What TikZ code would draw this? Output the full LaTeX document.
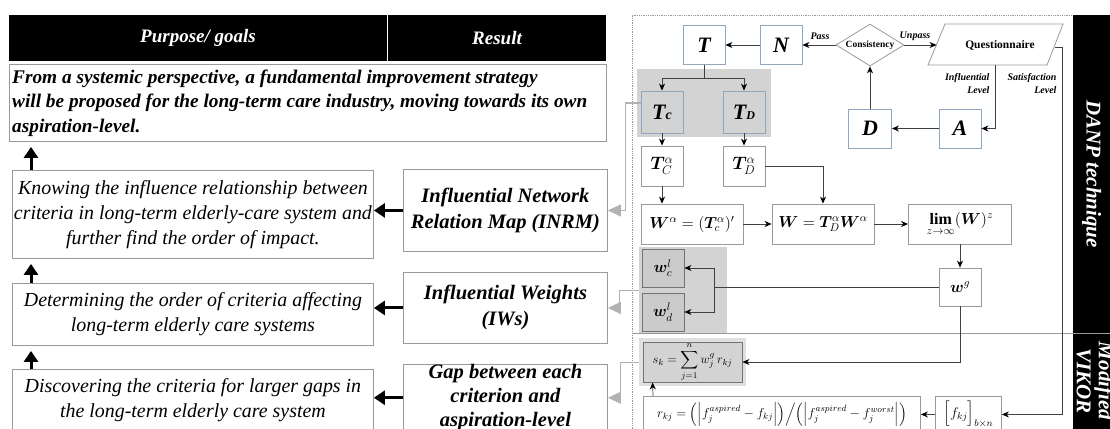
\RequirePackage{fix-cm}
\documentclass[tikz,border=0pt]{standalone}
\usepackage{amsmath,amssymb}
\usepackage{bm}
\usepackage{fontspec}
\setmainfont{Liberation Serif}
\usetikzlibrary{arrows.meta,calc,shapes.geometric}
\definecolor{boxgray}{HTML}{9A9A9A}
\definecolor{bluegray}{HTML}{8EA6BE}
\definecolor{shade}{HTML}{D3D3D3}
\definecolor{wshade}{HTML}{CBCBCB}
\definecolor{conngray}{HTML}{B2B2B2}
\begin{document}
\begin{tikzpicture}[x=1pt,y=-1pt,
  lbox/.style={draw=boxgray,line width=0.9pt,inner sep=0pt,align=center},
  bbox/.style={draw=bluegray,line width=0.9pt,inner sep=0pt,minimum width=42,minimum height=39},
  sbox/.style={draw=boxgray,line width=0.9pt,inner sep=0pt},
  wbox/.style={draw=black!55,fill=wshade,line width=0.9pt,inner sep=0pt},
  lineonly/.style={draw=black!75,line width=0.7pt},
  arr/.style={draw=black!75,line width=0.7pt,-{Stealth[length=7pt,width=6pt,color=black]}},
  bigarr/.style={draw=black,line width=3pt,-{Triangle[length=11pt,width=14pt]}},
  garr/.style={draw=conngray,line width=1.1pt,-{Triangle[length=13pt,width=12pt,color=conngray]}},
  htext/.style={text=white,font=\fontsize{19}{19}\selectfont\bfseries\itshape},
  goalfont/.style={font=\fontsize{19.3}{24.5}\selectfont\bfseries\itshape},
  itfont/.style={font=\fontsize{19.9}{25}\selectfont\itshape},
  resfont/.style={font=\fontsize{20.5}{26}\selectfont\bfseries\itshape},
  bigT/.style={font=\fontsize{22}{22}\selectfont\bfseries\itshape},
  consfont/.style={font=\fontsize{9.5}{10}\selectfont\bfseries},
  qfont/.style={font=\fontsize{11.5}{12}\selectfont\bfseries},
  lblfont/.style={font=\fontsize{10}{13}\selectfont\bfseries\itshape},
  barfont/.style={text=white,font=\fontsize{21}{22}\selectfont\bfseries\itshape},
  mfont/.style={font=\fontsize{16}{16}\selectfont},
]
\useasboundingbox (0,0) rectangle (1110,428);
\clip (0,0) rectangle (1110,428);

% ---------------- left table ----------------
\node[fill=black,minimum width=597,minimum height=46,inner sep=0,anchor=north west] (hdr) at (9,15) {};
\draw[white,line width=0.7pt] ($(hdr.north west)+(378,0)$) -- ($(hdr.south west)+(378,0)$);
\node[htext] (hpurp) at (198,38) {Purpose/ goals};
\node[htext] (hres) at (497,38) {Result};

\node[lbox,anchor=north west,minimum width=597,minimum height=77] (goal) at (9,64) {};
\node[anchor=west,align=left,inner sep=0,goalfont] (goaltxt) at (12,103)
  {From a systemic perspective, a fundamental improvement strategy\\will be proposed for the long-term care industry, moving towards its own\\aspiration-level.};

\node[lbox,anchor=north west,minimum width=361,minimum height=88,itfont] (know) at (12,170)
  {Knowing the influence relationship between\\criteria in long-term elderly-care system and\\further find the order of impact.};
\node[lbox,anchor=north west,minimum width=361,minimum height=62,itfont] (det) at (12,283)
  {Determining the order of criteria affecting\\long-term elderly care systems};
\node[lbox,anchor=north west,minimum width=361,minimum height=61,itfont] (disc) at (12,369)
  {Discovering the criteria for larger gaps in\\the long-term elderly care system};

\node[lbox,anchor=north west,minimum width=204,minimum height=82,resfont] (inrm) at (403,169)
  {Influential Network\\Relation Map (INRM)};
\node[lbox,anchor=north west,minimum width=204,minimum height=71,resfont] (iws) at (403,272)
  {Influential Weights\\(IWs)};
\node[lbox,anchor=north west,minimum width=204,minimum height=66,font=\fontsize{20.5}{24}\selectfont\bfseries\itshape] (gap) at (403,364)
  {Gap between each\\criterion and\\aspiration-level};

\draw[bigarr] ($(know.north west)+(19,0)$) -- ($(goal.south west)+(22,5)$);
\draw[bigarr] ($(det.north west)+(19,0)$) -- ($(know.south west)+(19,5)$);
\draw[bigarr] ($(disc.north west)+(19,0)$) -- ($(det.south west)+(19,5)$);
\draw[bigarr] (inrm.west) -- (inrm.west -| know.east);
\draw[bigarr] (iws.west) -- (iws.west -| det.east);
\draw[bigarr] (gap.west) -- (gap.west -| disc.east);

% ---------------- right panel ----------------
\draw[gray!80,densely dotted,line width=0.8pt] (632,440) -- (632,15) -- (1072,15);
\node[fill=black,anchor=north west,minimum width=37,minimum height=318,inner sep=0] (danp) at (1073,15) {};
\node[rotate=-90,barfont] (danptxt) at (danp.center) {DANP technique};
\node[fill=black,anchor=north west,minimum width=37,minimum height=100,inner sep=0] (vik) at (1073,333) {};
\node[rotate=-90,barfont,align=center] (viktxt) at (1095,381) {Modified\\VIKOR};
\draw[boxgray,line width=0.8pt] (632,333) -- (1110,333);

\node[bbox,bigT] (T) at (704,45) {T};
\node[bbox,bigT] (N) at (781,45) {N};
\node[diamond,draw=boxgray,line width=0.8pt,inner sep=0pt,aspect=1.6,minimum width=68,minimum height=42,consfont] (cons) at (870,45) {Consistency};
\draw[boxgray,line width=0.8pt] (945,24) -- (1063,24) -- (1047,65) -- (928,65) -- cycle;
\node[qfont] (quest) at (1000,45) {Questionnaire};
\coordinate (qL) at (936.5,45);
\coordinate (qB) at (995,65);
\coordinate (qR) at (1055,47);
\coordinate (qRR) at (1062,47);

\draw[arr] (N.west) -- (T.east);
\draw[arr] (cons.west) -- (N.east);
\draw[arr] (cons.east) -- (qL);
\node[lblfont] (pass) at (820,36) {Pass};
\node[lblfont] (unpass) at (915,36) {Unpass};

\node[bbox,bigT] (A) at (960,128.5) {A};
\node[bbox,bigT,minimum width=43] (D) at (870,128.5) {D};
\draw[arr] (qB) |- (A.east);
\draw[arr] (A.west) -- (D.east);
\draw[arr] (D.north) -- (cons.south);
\node[lblfont,anchor=east,align=right] (infl) at (993,83.5) {Influential\\Level};
\node[lblfont,anchor=east,align=right] (satl) at (1060,83.5) {Satisfaction\\Level};

\node[fill=shade,anchor=north west,minimum width=134,minimum height=68,inner sep=0] (reg1) at (637,69) {};
\node[bbox,fill=shade,minimum height=42,bigT] (Tc) at (662,112) {T{\fontsize{14}{14}\selectfont c}};
\node[bbox,fill=shade,minimum height=42,bigT] (TD) at (744,112) {T{\fontsize{12}{12}\selectfont D}};
\coordinate (tj) at ($(T.south)+(0,13)$);
\draw[lineonly] (T.south) -- (tj);
\draw[arr] (tj) -| (Tc.north);
\draw[arr] (tj) -| (TD.north);

\node[sbox,minimum width=42,minimum height=40,font=\fontsize{18}{18}\selectfont] (TcA) at (662,166) {$\boldsymbol{T}_{C}^{\alpha}$};
\node[sbox,minimum width=42,minimum height=40,font=\fontsize{18}{18}\selectfont] (TDA) at (744,166) {$\boldsymbol{T}_{D}^{\alpha}$};
\draw[arr] (Tc.south) -- (TcA.north);
\draw[arr] (TD.south) -- (TDA.north);

\node[sbox,minimum width=102,minimum height=40,mfont] (Wa) at (692,224) {$\boldsymbol{W}^{\alpha}=(\boldsymbol{T}_{c}^{\alpha})'$};
\node[sbox,minimum width=102,minimum height=40,mfont] (W) at (823,224) {$\boldsymbol{W}=\boldsymbol{T}_{D}^{\alpha}\boldsymbol{W}^{\alpha}$};
\node[sbox,minimum width=103,minimum height=40,mfont] (lim) at (960,224) {$\mathop{\mathbf{lim}}\limits_{z\to\infty}(\boldsymbol{W})^{z}$};
\draw[arr] (TcA.south) -- (TcA.south |- Wa.north);
\draw[arr] (TDA.east) -| (W.north);
\draw[arr] (Wa.east) -- (W.west);
\draw[arr] (W.east) -- (lim.west);

\node[sbox,minimum width=42,minimum height=38,mfont] (wg) at (960,287) {$\boldsymbol{w}^{g}$};
\draw[arr] (lim.south) -- (wg.north);

\node[fill=shade,anchor=north west,minimum width=88,minimum height=86,inner sep=0] (reg2) at (639,247) {};
\node[wbox,minimum width=42,minimum height=38,mfont] (wc) at (663,268) {$\boldsymbol{w}_{c}^{l}$};
\node[wbox,minimum width=42,minimum height=38,mfont] (wd) at (663,312) {$\boldsymbol{w}_{d}^{l}$};
\coordinate (wj) at ($(wg.west)+(-224,0)$);
\draw[lineonly] (wg.west) -- (wj);
\draw[arr] (wj) |- (wc.east);
\draw[arr] (wj) |- (wd.east);

\node[fill=shade!70,anchor=north west,minimum width=107,minimum height=48,inner sep=0] (reg3) at (639,338) {};
\node[wbox,fill=shade,minimum width=99,minimum height=40,font=\fontsize{12.5}{12.5}\selectfont] (sk) at (692.5,362) {$s_{k}=\displaystyle\sum_{j=1}^{n} w_{j}^{g}\, r_{kj}$};
\draw[arr] (wg.south) |- (sk.east);

\node[sbox,anchor=north west,minimum width=277,minimum height=36,font=\fontsize{13}{13}\selectfont] (rkj) at (643,396)
  {$r_{kj}=\Bigl(\Bigl|f_{j}^{aspired}-f_{kj}\Bigr|\Bigr)\Big/\Bigl(\Bigl|f_{j}^{aspired}-f_{j}^{worst}\Bigr|\Bigr)$};
\node[sbox,anchor=north west,minimum width=66,minimum height=36,font=\fontsize{14}{14}\selectfont] (fkj) at (935,396)
  {$\Bigl[f_{kj}\Bigr]_{b\times n}$};
\draw[arr] (fkj.west) -- (rkj.east);
\draw[arr] ($(rkj.north west)+(10,0)$) -- ($(sk.south west)+(10,0)$);
\draw[arr] (qR) -- (qRR) |- (fkj.east);

% gray result connectors
\draw[garr] ($(Tc.west)+(0,-9)$) -| ($(inrm.east)+(18,0)$) -- (inrm.east);
\draw[garr] (reg2.west) -| ($(iws.east)+(12,0)$) -- (iws.east);
\draw[garr] (reg3.west) -| ($(gap.east)+(13,0)$) -- (gap.east);
\end{tikzpicture}
\end{document}
